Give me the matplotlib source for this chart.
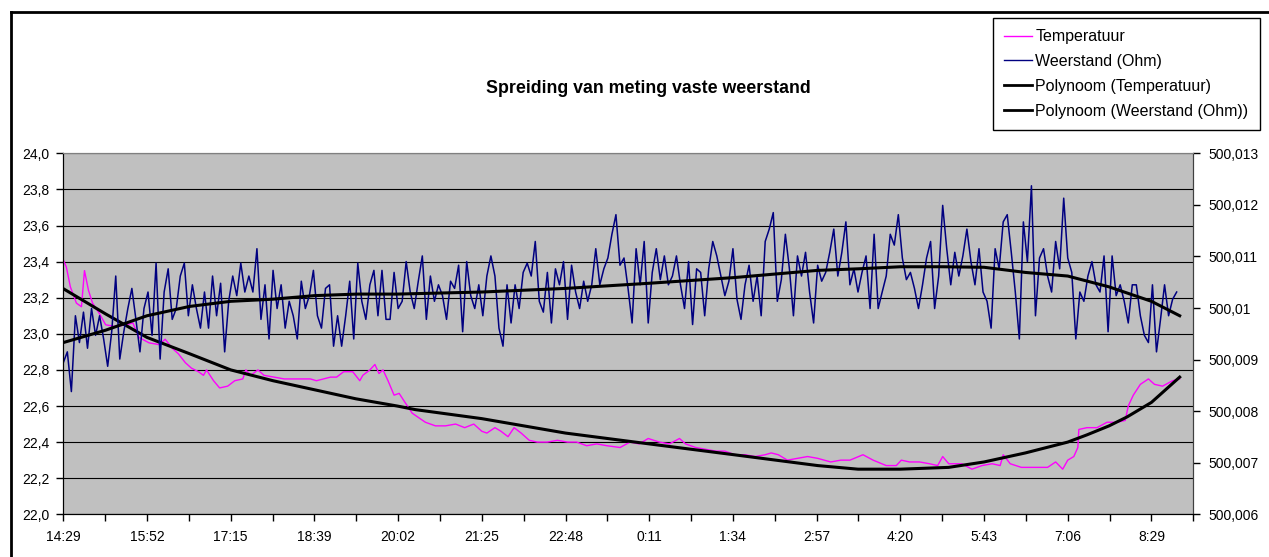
import numpy as np
import matplotlib
matplotlib.use('Agg')
import matplotlib.pyplot as plt
from matplotlib.lines import Line2D

plt.rcParams['font.family'] = ['Liberation Sans', 'DejaVu Sans']

# tijd-as: minuten vanaf 14:29, label elke 83 minuten
tijd_labels = ['14:29', '15:52', '17:15', '18:39', '20:02', '21:25', '22:48',
               '0:11', '1:34', '2:57', '4:20', '5:43', '7:06', '8:29']
label_stap = 83
eind_tijd = 1107

temp_tijd = [0, 3, 7, 13, 18, 21, 25, 29, 36, 42, 52, 62, 69, 75, 85, 95, 101,
             108, 114, 121, 127, 134, 139, 142, 149, 155, 163, 170, 178, 181,
             186, 193, 199, 209, 219, 232, 245, 251, 265, 271, 278, 287, 294,
             297, 304, 309, 313, 317, 322, 328, 333, 340, 346,
             359, 369, 379, 389, 398, 407, 415, 420, 428, 434, 441, 447, 454,
             462, 470, 480, 490, 500, 509, 519, 529, 539, 552, 562, 571, 580,
             591, 601, 611, 617, 627, 637, 647, 656, 666, 676, 686, 696, 702,
             709, 718, 728, 738, 748,
             761, 771, 780, 793, 803, 816, 826, 831, 839, 849, 859, 867, 872,
             878, 891, 901, 911, 921, 929, 932, 939, 950, 963, 976, 984, 991,
             996, 1002, 1006, 1007, 1015, 1025, 1035, 1045, 1053, 1056, 1061,
             1068, 1076, 1082, 1090, 1100, 1107]
temperatuur = [23.41, 23.37, 23.26, 23.17, 23.15, 23.35, 23.24, 23.17, 23.11,
               23.05, 23.04, 23.05, 23.06, 22.98, 22.95, 22.94, 22.97, 22.92,
               22.89, 22.84, 22.81, 22.79, 22.77, 22.80, 22.74, 22.70, 22.71,
               22.74, 22.75, 22.80, 22.77, 22.80, 22.77, 22.76, 22.75, 22.75,
               22.75, 22.74, 22.76, 22.76, 22.79, 22.79, 22.74, 22.77, 22.80,
               22.83, 22.78, 22.80, 22.74, 22.66, 22.67, 22.61, 22.56,
               22.51, 22.49, 22.49, 22.50, 22.48, 22.50, 22.46, 22.45, 22.48,
               22.46, 22.43, 22.48, 22.45, 22.41, 22.40, 22.40, 22.41, 22.40,
               22.40, 22.38, 22.39, 22.38, 22.37, 22.40, 22.39, 22.42, 22.40,
               22.39, 22.42, 22.39, 22.37, 22.36, 22.35, 22.35, 22.33, 22.33,
               22.32, 22.33, 22.34, 22.33, 22.30, 22.31, 22.32, 22.31,
               22.29, 22.30, 22.30, 22.33, 22.30, 22.27, 22.27, 22.30, 22.29,
               22.29, 22.28, 22.27, 22.32, 22.28, 22.28, 22.25, 22.27, 22.28,
               22.27, 22.33, 22.28, 22.26, 22.26, 22.26, 22.29, 22.25, 22.30,
               22.32, 22.37, 22.47, 22.48, 22.48, 22.51, 22.51, 22.52, 22.60,
               22.66, 22.72, 22.75, 22.72, 22.71, 22.74, 22.75]

# weerstand (Ohm), een meting per 4 minuten
meet_interval = 4
weerstand = [
    500.00894, 500.00915, 500.00838, 500.00985, 500.00933, 500.00992, 500.00922, 500.00999, 500.00947, 500.00985,
    500.00940, 500.00887, 500.00954, 500.01062, 500.00901, 500.00954, 500.00999, 500.01038, 500.00978, 500.00915,
    500.00999, 500.01031, 500.00947, 500.01087, 500.00901, 500.01031, 500.01076, 500.00978, 500.00999, 500.01062,
    500.01087, 500.00985, 500.01045, 500.00999, 500.00961, 500.01031, 500.00961, 500.01062, 500.00985, 500.01048,
    500.00915, 500.01013, 500.01062, 500.01024, 500.01087, 500.01031, 500.01062, 500.01031, 500.01115, 500.00978,
    500.01045, 500.00940, 500.01073, 500.00999, 500.01045, 500.00961, 500.01013, 500.00985, 500.00940, 500.01052,
    500.00999, 500.01024, 500.01073, 500.00985, 500.00961, 500.01038, 500.01045, 500.00926, 500.00985, 500.00926,
    500.00985, 500.01052, 500.00940, 500.01087, 500.01013, 500.00978, 500.01045, 500.01073, 500.00985, 500.01073,
    500.00978, 500.00978, 500.01069, 500.00999, 500.01013, 500.01090, 500.01031, 500.00999, 500.01052, 500.01101,
    500.00978, 500.01062, 500.01013, 500.01045, 500.01024, 500.00978, 500.01052, 500.01038, 500.01083, 500.00954,
    500.01090, 500.01024, 500.00999, 500.01045, 500.00985, 500.01062, 500.01101, 500.01062, 500.00961, 500.00926,
    500.01045, 500.00971, 500.01045, 500.00999, 500.01069, 500.01087, 500.01062, 500.01129, 500.01013, 500.00992,
    500.01069, 500.00971, 500.01076, 500.01045, 500.01090, 500.00978, 500.01083, 500.01031, 500.00999, 500.01052,
    500.01013, 500.01045, 500.01115, 500.01045, 500.01076, 500.01097, 500.01143, 500.01181, 500.01083, 500.01097,
    500.01038, 500.00971, 500.01115, 500.01045, 500.01129, 500.00971, 500.01069, 500.01115, 500.01055, 500.01101,
    500.01045, 500.01062, 500.01101, 500.01045, 500.00999, 500.01090, 500.00968, 500.01076, 500.01069, 500.00985,
    500.01076, 500.01129, 500.01101, 500.01062, 500.01024, 500.01052, 500.01115, 500.01017, 500.00978, 500.01045,
    500.01083, 500.01013, 500.01062, 500.00985, 500.01129, 500.01153, 500.01185, 500.01013, 500.01055, 500.01143,
    500.01076, 500.00985, 500.01101, 500.01062, 500.01108, 500.01031, 500.00971, 500.01083, 500.01052, 500.01069,
    500.01108, 500.01153, 500.01062, 500.01108, 500.01167, 500.01045, 500.01076, 500.01031, 500.01069, 500.01101,
    500.00999, 500.01143, 500.00999, 500.01031, 500.01062, 500.01143, 500.01122, 500.01181, 500.01097, 500.01055,
    500.01069, 500.01038, 500.00999, 500.01045, 500.01097, 500.01129, 500.00999, 500.01062, 500.01199, 500.01115,
    500.01045, 500.01108, 500.01062, 500.01101, 500.01153, 500.01090, 500.01045, 500.01115, 500.01031, 500.01013,
    500.00961, 500.01115, 500.01076, 500.01167, 500.01181, 500.01108, 500.01031, 500.00940, 500.01167, 500.01090,
    500.01237, 500.00985, 500.01097, 500.01115, 500.01062, 500.01031, 500.01129, 500.01076, 500.01213, 500.01097,
    500.01069, 500.00940, 500.01031, 500.01013, 500.01062, 500.01090, 500.01045, 500.01031, 500.01101, 500.00954,
    500.01101, 500.01024, 500.01045, 500.01013, 500.00971, 500.01045, 500.01045, 500.00985, 500.00947, 500.00933,
    500.01045, 500.00915, 500.00978, 500.01045, 500.00985, 500.01017, 500.01031]

poly_temp_tijd = [0, 42, 83, 125, 166, 208, 249, 290, 331, 349, 415, 498, 581,
                  665, 748, 788, 830, 878, 913, 954, 996, 1015, 1037, 1055,
                  1079, 1107]
poly_temp = [23.25, 23.11, 22.98, 22.89, 22.80, 22.74, 22.69, 22.64, 22.60,
             22.58, 22.53, 22.45, 22.39, 22.33, 22.27, 22.25, 22.25, 22.26,
             22.29, 22.34, 22.40, 22.44, 22.49, 22.54, 22.62, 22.76]
poly_weer_tijd = [0, 42, 83, 125, 166, 207, 249, 291, 331, 415, 498, 581, 665,
                  748, 788, 830, 872, 913, 954, 996, 1037, 1079, 1107]
poly_weer = [500.00933, 500.00957, 500.00985, 500.01003, 500.01013, 500.01017,
             500.01024, 500.01027, 500.01027, 500.01031, 500.01038, 500.01048,
             500.01059, 500.01073, 500.01076, 500.01080, 500.01080, 500.01079,
             500.01069, 500.01062, 500.01041, 500.01013, 500.00985]

W, H = 1269, 557
fig = plt.figure(figsize=(W / 100, H / 100), dpi=100)
x0, x1, y0, y1 = 63.3, 1193.3, 153.3, 514.3
ax = fig.add_axes([x0 / W, 1 - y1 / H, (x1 - x0) / W, (y1 - y0) / H])
ax.set_facecolor('#c0c0c0')
ax2 = ax.twinx()

weer_tijd = np.arange(len(weerstand)) * meet_interval

ax.plot(temp_tijd, temperatuur, color='#ff00ff', lw=1)
ax.plot(poly_temp_tijd, poly_temp, color='black', lw=2.2)
ax2.plot(weer_tijd, weerstand, color='#000080', lw=1.1)
ax2.plot(poly_weer_tijd, poly_weer, color='black', lw=2.2)

ax.set_xlim(0, eind_tijd)
ax.set_ylim(22.0, 24.0)
ax2.set_ylim(500.006, 500.013)

major = np.arange(len(tijd_labels)) * label_stap
ax.set_xticks(major)
ax.set_xticklabels(tijd_labels)
ax.set_xticks(major + label_stap / 2, minor=True)

yt = np.arange(22.0, 24.01, 0.2)
ax.set_yticks(yt)
ax.set_yticklabels([f'{v:.1f}'.replace('.', ',') for v in yt])
rt = [500.006, 500.007, 500.008, 500.009, 500.010, 500.011, 500.012, 500.013]
ax2.set_yticks(rt)
ax2.set_yticklabels(['500,006', '500,007', '500,008', '500,009', '500,01',
                     '500,011', '500,012', '500,013'])

ax.tick_params(axis='x', which='both', direction='out', length=5, width=1,
               labelsize=10, pad=6)
ax.tick_params(axis='y', direction='out', length=5, width=1, labelsize=10, pad=5)
ax2.tick_params(axis='y', direction='out', length=5, width=1, labelsize=10, pad=6)

ax.yaxis.grid(True, color='black', lw=0.8)
ax.set_axisbelow(True)

for a in (ax, ax2):
    a.spines['top'].set_color('#808080')
    a.spines['left'].set_color('black')
    a.spines['bottom'].set_color('black')
    a.spines['right'].set_color('#404040')

fig.text(648 / W, 1 - 93 / H, 'Spreiding van meting vaste weerstand',
         ha='center', va='baseline', fontsize=12.75, fontweight='bold')

handles = [Line2D([], [], color='#ff00ff', lw=1),
           Line2D([], [], color='#000080', lw=1),
           Line2D([], [], color='black', lw=2),
           Line2D([], [], color='black', lw=2)]
labels = ['Temperatuur', 'Weerstand (Ohm)', 'Polynoom (Temperatuur)',
          'Polynoom (Weerstand (Ohm))']
leg = fig.legend(handles, labels, loc='upper left',
                 bbox_to_anchor=(993 / W, 1 - 18 / H), fontsize=11.5,
                 frameon=True, fancybox=False, edgecolor='black', framealpha=1,
                 borderaxespad=0, handlelength=1.75, handletextpad=0.2,
                 labelspacing=0.62, borderpad=0.7)
leg.get_frame().set_linewidth(1)

# kader van de grafiek
fig.add_artist(Line2D([11 / W, 11 / W], [0, 1 - 12 / H], color='black', lw=2))
fig.add_artist(Line2D([11 / W, 1], [1 - 12 / H, 1 - 12 / H], color='black', lw=2))

fig.savefig('out.png', dpi=100)
